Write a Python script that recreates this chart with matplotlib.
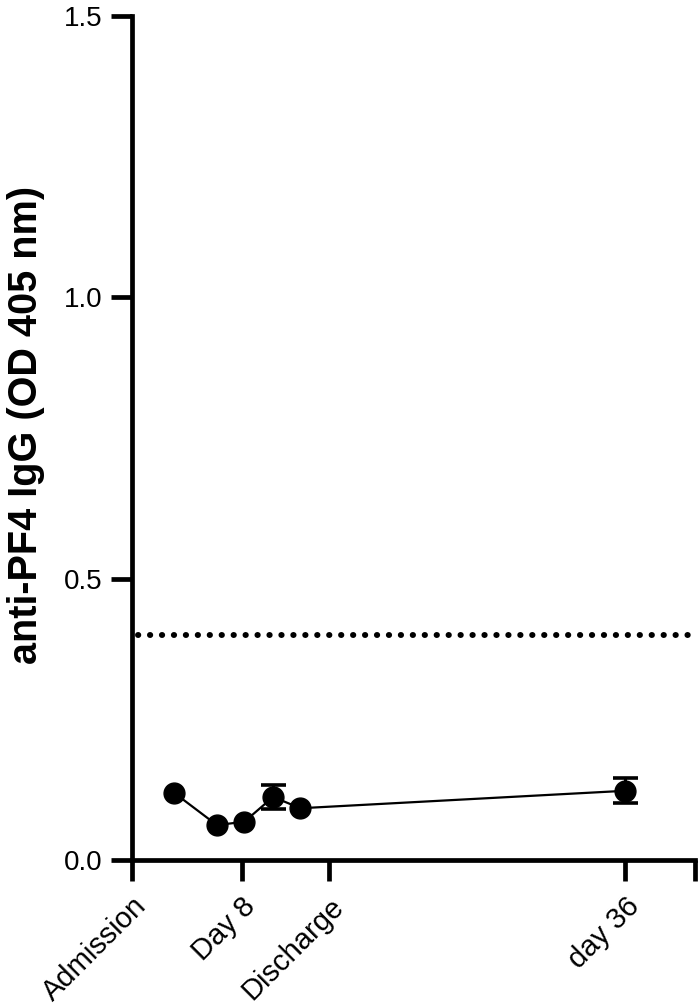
"""anti-PF4 IgG over time."""

import matplotlib.pyplot as plt

plt.rcParams["font.family"] = ["Liberation Sans", "DejaVu Sans"]

# data (x in days from admission)
days = [3.1, 6.2, 8.2, 10.3, 12.3, 36.0]
od = [0.119, 0.062, 0.068, 0.112, 0.092, 0.123]
od_err = [0.0, 0.0, 0.0, 0.021, 0.0, 0.022]
cutoff = 0.40

tick_pos = [0, 8, 14.4, 36, 41.1]
tick_labels = ["Admission", "Day 8", "Discharge", "day 36", ""]

fig = plt.figure(figsize=(6.99, 10.08), dpi=100)
ax = fig.add_axes([132 / 699, 1 - 860 / 1008, (695 - 132) / 699, (860 - 16) / 1008])

ax.axhline(cutoff, xmin=0.01, xmax=0.99, color="black", linewidth=4.3,
           linestyle=(0, (0.05, 1.95)), dash_capstyle="round", zorder=1)

ax.plot(days, od, color="black", marker="o", markersize=15, linewidth=1.6, zorder=3)

# error bars only where SD was given
err_idx = [i for i, e in enumerate(od_err) if e > 0]
ax.errorbar([days[i] for i in err_idx], [od[i] for i in err_idx],
            yerr=[od_err[i] for i in err_idx], fmt="none", ecolor="black",
            elinewidth=2.2, capsize=9, capthick=2.6, zorder=2)

ax.set_xlim(tick_pos[0], tick_pos[-1])
ax.set_ylim(0, 1.5)
ax.set_yticks([0, 0.5, 1.0, 1.5])
ax.set_yticklabels(["0.0", "0.5", "1.0", "1.5"])
ax.set_xticks(tick_pos)
ax.set_xticklabels(tick_labels, rotation=45, ha="right", rotation_mode="anchor")

for side in ["top", "right"]:
    ax.spines[side].set_visible(False)
for side in ["left", "bottom"]:
    ax.spines[side].set_linewidth(3.4)

ax.tick_params(axis="both", width=3.4, length=15, pad=6)
ax.tick_params(axis="y", labelsize=20)
ax.tick_params(axis="x", labelsize=21, pad=8)

ax.set_ylabel("anti-PF4 IgG (OD 405 nm)", fontsize=28.5, fontweight="bold")
ax.yaxis.set_label_coords(-0.155, 0.515)

fig.savefig("out.png", dpi=100)
